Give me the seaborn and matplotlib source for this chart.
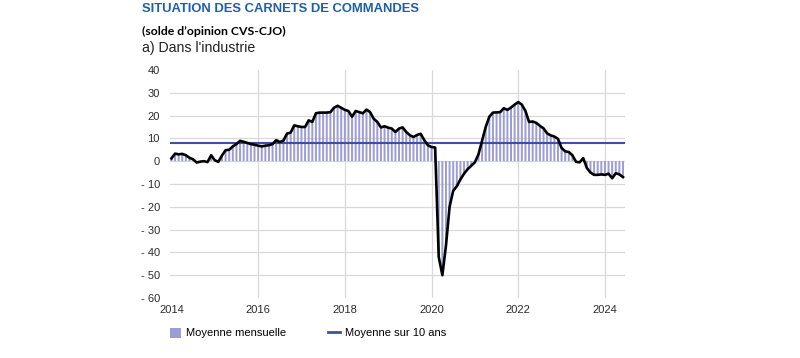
import matplotlib
matplotlib.use("Agg")
import matplotlib.pyplot as plt
import seaborn as sns
import pandas as pd
from matplotlib.patches import Patch
from matplotlib.lines import Line2D

# monthly balance of opinion, Jan 2014 -> Jun 2024
monthly = [
    1.2, 3.3, 3.0, 3.2, 2.6, 1.5, 0.8, -0.6, -0.2, 0.0, -0.4, 2.6,      # 2014
    0.4, -0.3, 2.5, 4.8, 5.0, 6.5, 7.5, 8.9, 8.5, 8.0, 7.5, 7.2,        # 2015
    6.8, 6.5, 6.8, 7.0, 7.5, 9.2, 8.4, 9.0, 12.1, 12.5, 15.7, 15.3,     # 2016
    15.0, 15.0, 17.9, 17.2, 21.0, 21.3, 21.3, 21.3, 21.5, 23.4, 24.3, 23.4,  # 2017
    22.5, 22.0, 19.5, 22.0, 21.5, 21.0, 22.6, 21.5, 18.6, 17.2, 14.8, 15.3,  # 2018
    14.7, 14.3, 12.8, 14.3, 14.8, 12.8, 11.4, 10.6, 11.5, 12.0, 9.2, 7.0,    # 2019
    6.2, 6.0, -42.0, -50.0, -37.0, -20.0, -13.0, -11.0, -8.0, -5.5, -3.5, -2.0,  # 2020
    -0.5, 3.0, 9.0, 15.0, 19.5, 21.3, 21.4, 21.5, 23.2, 22.5, 23.5, 24.8,   # 2021
    25.9, 24.8, 22.0, 17.2, 17.4, 16.8, 15.5, 14.4, 12.2, 11.3, 10.8, 9.8,  # 2022
    5.8, 4.3, 4.0, 2.6, -0.3, -0.5, 1.3, -3.0, -5.0, -6.0, -6.0, -5.8,      # 2023
    -6.0, -5.5, -7.5, -5.3, -5.8, -7.0,                                     # 2024
]
avg_10y = 8.1
year_labels = ["2014", "2016", "2018", "2020", "2022", "2024"]
y_ticks = [40, 30, 20, 10, 0, -10, -20, -30, -40, -50, -60]

df = pd.DataFrame({"mois": range(len(monthly)), "solde": monthly})

bar_color = "#9c9dd5"
avg_color = "#3e4fa6"
grid_color = "#d9d9d9"

fig = plt.figure(figsize=(8, 3.58), dpi=100)
ax = fig.add_axes([0.212, 0.1676, 0.569, 0.637])

sns.barplot(data=df, x="mois", y="solde", native_scale=True, width=0.55,
            color=bar_color, saturation=1, linewidth=0, errorbar=None,
            snap=False, ax=ax)
ax.axhline(avg_10y, color=avg_color, lw=1.5, zorder=3)
sns.lineplot(data=df, x="mois", y="solde", color="black", lw=1.9, ax=ax, zorder=4)

ax.set_xlim(-0.5, len(monthly) - 0.5)
ax.set_ylim(-60, 40)
ax.set_xticks([24 * i for i in range(len(year_labels))])
ax.set_xticklabels(year_labels)
ax.set_yticks(y_ticks)
ax.set_yticklabels([str(v) if v >= 0 else "- " + str(-v) for v in y_ticks])
ax.set_xlabel("")
ax.set_ylabel("")

for v in y_ticks[1:-1]:
    ax.axhline(v, color=grid_color, lw=0.9, zorder=0)
for x in ax.get_xticks()[1:]:
    ax.axvline(x, color=grid_color, lw=0.9, zorder=0)

for s in ax.spines.values():
    s.set_visible(False)
ax.tick_params(axis="both", length=0, labelsize=8, colors="#2b2b2b",
               labelfontfamily="Liberation Sans")
ax.tick_params(axis="y", pad=7)
ax.tick_params(axis="x", pad=5)

fig.text(142 / 800, 1 - 9 / 358, "SITUATION DES CARNETS DE COMMANDES",
         fontsize=9.4, fontweight="bold", color="#1b5fae", va="center",
         family="Liberation Sans")
fig.text(142 / 800, 1 - 31 / 358, "(solde d\u2019opinion CVS-CJO)",
         fontsize=8.8, fontweight="bold", color="black", va="center", family="Lato")
fig.text(142 / 800, 1 - 48 / 358, "a) Dans l'industrie",
         fontsize=10.2, color="#222222", va="center", family="Liberation Sans")

handles = [Patch(facecolor=bar_color, edgecolor="none"),
           Line2D([], [], color=avg_color, lw=2)]
fig.legend(handles, ["Moyenne mensuelle", "Moyenne sur 10 ans"],
           loc="center left", bbox_to_anchor=(170 / 800, 1 - 333 / 358),
           ncol=2, frameon=False, borderpad=0, borderaxespad=0,
           handlelength=1.0, handleheight=1.0, handletextpad=0.45,
           columnspacing=3.8, prop={"family": "Liberation Sans", "size": 8})

fig.savefig("out.png", dpi=100)
